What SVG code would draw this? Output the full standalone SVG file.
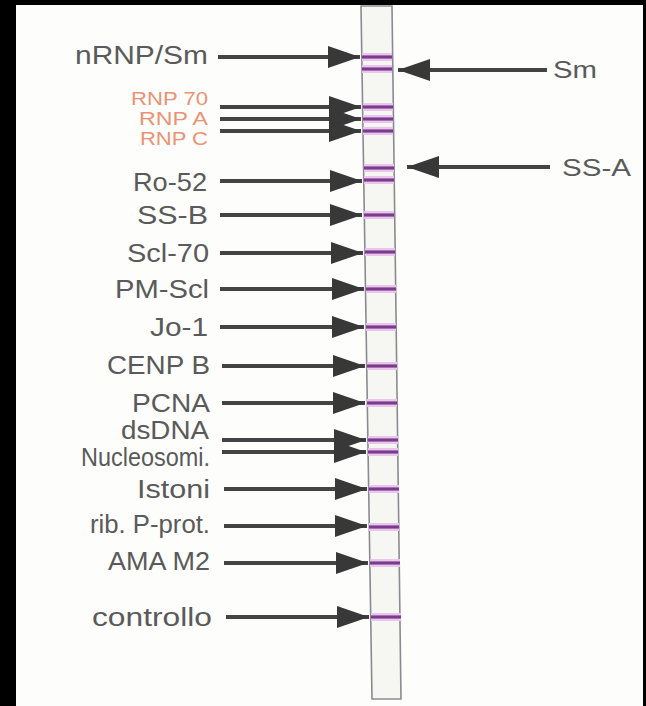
<svg xmlns="http://www.w3.org/2000/svg" width="646" height="706" viewBox="0 0 646 706">
<style>
.lbl{font-family:"Liberation Sans",Arial,sans-serif;font-size:25px;fill:#5a5a5a;text-anchor:end}
.rl{font-family:"Liberation Sans",Arial,sans-serif;font-size:23px;fill:#5a5a5a}
.rnp{font-family:"Liberation Sans",Arial,sans-serif;font-size:18px;fill:#ec9272;text-anchor:end}
.ln{stroke:#444;stroke-width:4;fill:none}
.halo{stroke:#eac6ec;stroke-width:8}
.band{stroke:#7a3c8c;stroke-width:3.2}
</style>
<defs>
<marker id="ah" markerUnits="userSpaceOnUse" markerWidth="34" markerHeight="24" refX="32" refY="12" orient="auto">
<path d="M0,1 L32,12 L0,23 Z" fill="#383838"/>
</marker>
</defs>
<rect x="0" y="0" width="646" height="706" fill="#000"/>
<rect x="16" y="5" width="627" height="701" fill="#fdfdfc"/>
<g id="strip">
<polygon points="361,6 392,6 401,699 372,699" fill="#f6f7f3" stroke="#8a8a92" stroke-width="1.6"/>
<g id="bands">
<line class="halo" x1="362" y1="57" x2="392" y2="57"/><line class="band" x1="362" y1="57" x2="392" y2="57"/>
<line class="halo" x1="362" y1="69" x2="392" y2="69"/><line class="band" x1="362" y1="69" x2="392" y2="69"/>
<line class="halo" x1="363" y1="107" x2="393" y2="107"/><line class="band" x1="363" y1="107" x2="393" y2="107"/>
<line class="halo" x1="363" y1="119" x2="393" y2="119"/><line class="band" x1="363" y1="119" x2="393" y2="119"/>
<line class="halo" x1="363" y1="131" x2="393" y2="131"/><line class="band" x1="363" y1="131" x2="393" y2="131"/>
<line class="halo" x1="364" y1="168" x2="394" y2="168"/><line class="band" x1="364" y1="168" x2="394" y2="168"/>
<line class="halo" x1="364" y1="180" x2="394" y2="180"/><line class="band" x1="364" y1="180" x2="394" y2="180"/>
<line class="halo" x1="364" y1="215" x2="394" y2="215"/><line class="band" x1="364" y1="215" x2="394" y2="215"/>
<line class="halo" x1="365" y1="252" x2="395" y2="252"/><line class="band" x1="365" y1="252" x2="395" y2="252"/>
<line class="halo" x1="366" y1="289" x2="396" y2="289"/><line class="band" x1="366" y1="289" x2="396" y2="289"/>
<line class="halo" x1="366" y1="327" x2="396" y2="327"/><line class="band" x1="366" y1="327" x2="396" y2="327"/>
<line class="halo" x1="367" y1="366" x2="397" y2="366"/><line class="band" x1="367" y1="366" x2="397" y2="366"/>
<line class="halo" x1="367" y1="403" x2="397" y2="403"/><line class="band" x1="367" y1="403" x2="397" y2="403"/>
<line class="halo" x1="368" y1="440" x2="398" y2="440"/><line class="band" x1="368" y1="440" x2="398" y2="440"/>
<line class="halo" x1="368" y1="452" x2="398" y2="452"/><line class="band" x1="368" y1="452" x2="398" y2="452"/>
<line class="halo" x1="369" y1="489" x2="399" y2="489"/><line class="band" x1="369" y1="489" x2="399" y2="489"/>
<line class="halo" x1="369" y1="527" x2="399" y2="527"/><line class="band" x1="369" y1="527" x2="399" y2="527"/>
<line class="halo" x1="370" y1="563" x2="400" y2="563"/><line class="band" x1="370" y1="563" x2="400" y2="563"/>
<line class="halo" x1="371" y1="617" x2="401" y2="617"/><line class="band" x1="371" y1="617" x2="401" y2="617"/>
</g>
</g>
<g id="labels">
<g id="n-nrnp"><text class="lbl" x="208" y="64" textLength="133" lengthAdjust="spacingAndGlyphs">nRNP/Sm</text></g>
<g id="n-rnp70"><text class="rnp" x="208" y="105" textLength="77" lengthAdjust="spacingAndGlyphs">RNP 70</text></g>
<g id="n-rnpa"><text class="rnp" x="208" y="125" textLength="69" lengthAdjust="spacingAndGlyphs">RNP A</text></g>
<g id="n-rnpc"><text class="rnp" x="208" y="145" textLength="68" lengthAdjust="spacingAndGlyphs">RNP C</text></g>
<g id="n-ro52"><text class="lbl" x="207" y="191" textLength="74" lengthAdjust="spacingAndGlyphs">Ro-52</text></g>
<g id="n-ssb"><text class="lbl" x="208" y="224" textLength="71" lengthAdjust="spacingAndGlyphs">SS-B</text></g>
<g id="n-scl70"><text class="lbl" x="209" y="262" textLength="82" lengthAdjust="spacingAndGlyphs">Scl-70</text></g>
<g id="n-pmscl"><text class="lbl" x="209" y="298" textLength="94" lengthAdjust="spacingAndGlyphs">PM-Scl</text></g>
<g id="n-jo1"><text class="lbl" x="208" y="336" textLength="58" lengthAdjust="spacingAndGlyphs">Jo-1</text></g>
<g id="n-cenpb"><text class="lbl" x="210" y="374" textLength="103" lengthAdjust="spacingAndGlyphs">CENP B</text></g>
<g id="n-pcna"><text class="lbl" x="210" y="412" textLength="78" lengthAdjust="spacingAndGlyphs">PCNA</text></g>
<g id="n-dsdna"><text class="lbl" x="209" y="439" font-size="20" textLength="88" lengthAdjust="spacingAndGlyphs">dsDNA</text></g>
<g id="n-nucleo"><text class="lbl" x="210" y="466" font-size="20" textLength="129" lengthAdjust="spacingAndGlyphs">Nucleosomi.</text></g>
<g id="n-istoni"><text class="lbl" x="210" y="498" textLength="73" lengthAdjust="spacingAndGlyphs">Istoni</text></g>
<g id="n-rib"><text class="lbl" x="210" y="533" textLength="120" lengthAdjust="spacingAndGlyphs">rib. P-prot.</text></g>
<g id="n-ama"><text class="lbl" x="210" y="570" textLength="102" lengthAdjust="spacingAndGlyphs">AMA M2</text></g>
<g id="n-ctrl"><text class="lbl" x="212" y="626" textLength="120" lengthAdjust="spacingAndGlyphs">controllo</text></g>
<g id="n-sm"><text class="rl" x="553" y="78" textLength="44" lengthAdjust="spacingAndGlyphs">Sm</text></g>
<g id="n-ssa"><text class="rl" x="562" y="176" textLength="69" lengthAdjust="spacingAndGlyphs">SS-A</text></g>
</g>
<g id="connectors">
<line class="ln" x1="218" y1="57" x2="360" y2="57" marker-end="url(#ah)"/>
<line class="ln" x1="220" y1="107" x2="361" y2="107" marker-end="url(#ah)"/>
<line class="ln" x1="220" y1="119" x2="361" y2="119" marker-end="url(#ah)"/>
<line class="ln" x1="220" y1="131" x2="361" y2="131" marker-end="url(#ah)"/>
<line class="ln" x1="220" y1="181" x2="362" y2="181" marker-end="url(#ah)"/>
<line class="ln" x1="220" y1="215" x2="362" y2="215" marker-end="url(#ah)"/>
<line class="ln" x1="220" y1="253" x2="363" y2="253" marker-end="url(#ah)"/>
<line class="ln" x1="220" y1="289" x2="364" y2="289" marker-end="url(#ah)"/>
<line class="ln" x1="220" y1="327" x2="364" y2="327" marker-end="url(#ah)"/>
<line class="ln" x1="222" y1="366" x2="365" y2="366" marker-end="url(#ah)"/>
<line class="ln" x1="222" y1="403" x2="365" y2="403" marker-end="url(#ah)"/>
<line class="ln" x1="222" y1="440" x2="366" y2="440" marker-end="url(#ah)"/>
<line class="ln" x1="222" y1="452" x2="366" y2="452" marker-end="url(#ah)"/>
<line class="ln" x1="224" y1="489" x2="367" y2="489" marker-end="url(#ah)"/>
<line class="ln" x1="224" y1="526" x2="367" y2="526" marker-end="url(#ah)"/>
<line class="ln" x1="224" y1="563" x2="368" y2="563" marker-end="url(#ah)"/>
<line class="ln" x1="226" y1="617" x2="369" y2="617" marker-end="url(#ah)"/>
<line class="ln" x1="547" y1="70" x2="398" y2="70" marker-end="url(#ah)"/>
<line class="ln" x1="550" y1="167" x2="407" y2="167" marker-end="url(#ah)"/>
</g>
</svg>
